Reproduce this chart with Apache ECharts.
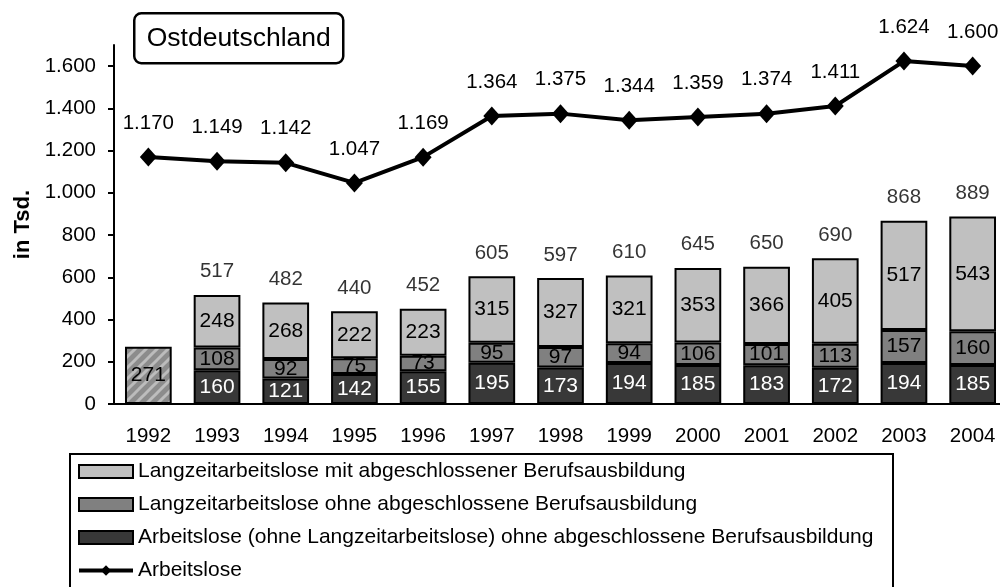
<!DOCTYPE html>
<html>
<head>
<meta charset="utf-8">
<script src="https://cdn.jsdelivr.net/npm/echarts@6/dist/echarts.min.js"></script>
<style>
  html, body { margin: 0; padding: 0; background: #fff; }
  #chart { width: 1000px; height: 587px; }
</style>
</head>
<body>
<div id="chart"></div>
<script>
// Jahre auf der x-Achse
const jahre = ['1992', '1993', '1994', '1995', '1996', '1997', '1998', '1999', '2000', '2001', '2002', '2003', '2004']
// 1992 nur Gesamtwert der Langzeitarbeitslosen (schraffiert)
const wert1992 = [271, '-', '-', '-', '-', '-', '-', '-', '-', '-', '-', '-', '-']
// Arbeitslose (ohne Langzeitarbeitslose) ohne abgeschlossene Berufsausbildung
const ohneLangzeit = ['-', 160, 121, 142, 155, 195, 173, 194, 185, 183, 172, 194, 185]
// Langzeitarbeitslose ohne abgeschlossene Berufsausbildung
const langOhne = ['-', 108, 92, 75, 73, 95, 97, 94, 106, 101, 113, 157, 160]
// Langzeitarbeitslose mit abgeschlossener Berufsausbildung
const langMit = ['-', 248, 268, 222, 223, 315, 327, 321, 353, 366, 405, 517, 543]
// Summen über den Balken
const summen = ['-', 517, 482, 440, 452, 605, 597, 610, 645, 650, 690, 868, 889]
// Arbeitslose insgesamt (Linie)
const arbeitslose = [1170, 1149, 1142, 1047, 1169, 1364, 1375, 1344, 1359, 1374, 1411, 1624, 1600]
// Achsenbeschriftung
const yTicks = [0, 200, 400, 600, 800, 1000, 1200, 1400, 1600]

const namen = [
  'Langzeitarbeitslose mit abgeschlossener Berufsausbildung',
  'Langzeitarbeitslose ohne abgeschlossene Berufsausbildung',
  'Arbeitslose (ohne Langzeitarbeitslose) ohne abgeschlossene Berufsausbildung',
  'Arbeitslose'
]

const font = "'Liberation Sans', Arial, sans-serif"

// Tausenderpunkt
function fmt(v) {
  return String(v).replace(/\B(?=(\d{3})+(?!\d))/g, '.')
}

// Schraffur für 1992
function schraffur() {
  const c = document.createElement('canvas')
  c.width = 11
  c.height = 11
  const ctx = c.getContext('2d')
  ctx.fillStyle = '#8c8c8c'
  ctx.fillRect(0, 0, 11, 11)
  ctx.strokeStyle = '#bcbcbc'
  ctx.lineWidth = 3
  ;[[-11, 11, 11, -11], [0, 11, 11, 0], [0, 22, 22, 0]].forEach(function (l) {
    ctx.beginPath()
    ctx.moveTo(l[0], l[1])
    ctx.lineTo(l[2], l[3])
    ctx.stroke()
  })
  return c
}

const chart = echarts.init(document.getElementById('chart'))

const barBase = {
  type: 'bar',
  stack: 'gesamt',
  barWidth: '68%',
  itemStyle: { borderColor: '#000', borderWidth: 2 },
  label: { show: true, position: 'inside', fontSize: 21, fontFamily: font, color: '#000' }
}

const option = {
  backgroundColor: '#fff',
  animation: false,
  textStyle: { fontFamily: font, color: '#000' },
  grid: { left: 114, right: -7, top: 45, bottom: 183, containLabel: false, outerBoundsMode: 'none' },
  xAxis: {
    type: 'category',
    data: jahre,
    axisLine: { lineStyle: { color: '#000', width: 2 } },
    axisTick: { show: false },
    axisLabel: { fontSize: 20.5, color: '#000', margin: 22, fontFamily: font }
  },
  yAxis: {
    type: 'value',
    min: 0,
    max: 1700,
    interval: 200,
    name: 'in Tsd.',
    nameLocation: 'middle',
    nameGap: 80,
    nameTextStyle: { fontSize: 22, fontWeight: 'bold', color: '#000', fontFamily: font },
    splitLine: { show: false },
    axisLine: { show: true, lineStyle: { color: '#000', width: 2 } },
    axisTick: { show: true, length: 6, lineStyle: { color: '#000', width: 2 }, customValues: yTicks },
    axisLabel: { fontSize: 20.5, color: '#000', margin: 18, fontFamily: font, formatter: fmt, customValues: yTicks }
  },
  legend: {
    orient: 'vertical',
    left: 77,
    top: 461,
    padding: 0,
    itemGap: 12,
    itemWidth: 54,
    itemHeight: 13,
    textStyle: { fontSize: 21, color: '#000', fontFamily: font },
    data: [
      { name: namen[0], icon: 'rect' },
      { name: namen[1], icon: 'rect' },
      { name: namen[2], icon: 'rect' },
      { name: namen[3], lineStyle: { width: 4 } }
    ]
  },
  graphic: [
    {
      type: 'rect',
      shape: { x: 70, y: 454, width: 823, height: 150 },
      style: { fill: 'none', stroke: '#000', lineWidth: 2 },
      z: -1
    },
    {
      type: 'group',
      left: 133,
      top: 12,
      children: [
        {
          type: 'rect',
          shape: { x: 0, y: 0, width: 209, height: 50, r: 7 },
          style: { fill: '#fff', stroke: '#000', lineWidth: 2.5 }
        },
        {
          type: 'text',
          x: 104.5,
          y: 25,
          style: { text: 'Ostdeutschland', font: '26.5px ' + font, fill: '#000', align: 'center', verticalAlign: 'middle' }
        }
      ]
    }
  ],
  series: [
    Object.assign({}, barBase, {
      name: '1992',
      data: wert1992,
      itemStyle: { borderColor: '#000', borderWidth: 2, color: { image: schraffur(), repeat: 'repeat' } }
    }),
    Object.assign({}, barBase, {
      name: namen[2],
      data: ohneLangzeit,
      itemStyle: { borderColor: '#000', borderWidth: 2, color: '#383838' },
      label: { show: true, position: 'inside', fontSize: 21, fontFamily: font, color: '#fff' }
    }),
    Object.assign({}, barBase, {
      name: namen[1],
      data: langOhne,
      itemStyle: { borderColor: '#000', borderWidth: 2, color: '#808080' }
    }),
    Object.assign({}, barBase, {
      name: namen[0],
      data: langMit,
      itemStyle: { borderColor: '#000', borderWidth: 2, color: '#c0c0c0' }
    }),
    {
      name: 'Summe',
      type: 'scatter',
      data: summen,
      symbolSize: 1,
      itemStyle: { color: 'transparent' },
      label: { show: true, position: 'top', distance: 12, fontSize: 20.5, fontFamily: font, color: '#000' },
      z: 5
    },
    {
      name: namen[3],
      type: 'line',
      data: arbeitslose,
      symbol: 'diamond',
      symbolSize: [17, 19],
      lineStyle: { color: '#000', width: 4 },
      itemStyle: { color: '#000' },
      label: { show: true, position: 'top', distance: 14, fontSize: 20.5, fontFamily: font, color: '#000', formatter: function (p) { return fmt(p.value) } },
      z: 10
    }
  ]
}

chart.setOption(option)
</script>
</body>
</html>
